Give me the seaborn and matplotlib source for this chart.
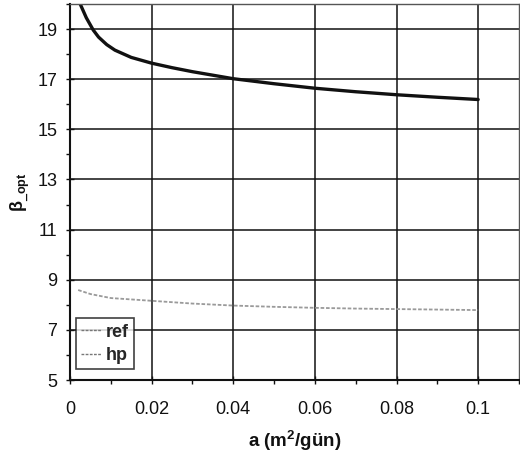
import matplotlib
matplotlib.use("Agg")
import matplotlib.pyplot as plt
import seaborn as sns
import pandas as pd
from matplotlib.ticker import MultipleLocator

# data
a_hp = [0.001, 0.0025, 0.004, 0.0057, 0.007, 0.009, 0.011, 0.015, 0.02, 0.025, 0.03,
        0.04, 0.05, 0.06, 0.07, 0.08, 0.09, 0.1]
beta_hp = [21.2, 20.0, 19.45, 18.96, 18.68, 18.38, 18.16, 17.87, 17.64, 17.46, 17.3,
           17.02, 16.82, 16.64, 16.5, 16.38, 16.28, 16.19]
a_ref = [0.002, 0.005, 0.01, 0.02, 0.03, 0.04, 0.05, 0.06, 0.07, 0.08, 0.09, 0.1]
beta_ref = [8.59, 8.43, 8.27, 8.16, 8.05, 7.97, 7.92, 7.88, 7.85, 7.83, 7.81, 7.79]
x_ticks = [0, 0.02, 0.04, 0.06, 0.08, 0.1]
x_tick_labels = ["0", "0.02", "0.04", "0.06", "0.08", "0.1"]
y_ticks = [5, 7, 9, 11, 13, 15, 17, 19]

sns.set_theme(style="white")
plt.rcParams["font.family"] = ["Liberation Sans", "DejaVu Sans"]
plt.rcParams["mathtext.fontset"] = "custom"
plt.rcParams["mathtext.rm"] = "Liberation Sans:bold"
plt.rcParams["mathtext.it"] = "Liberation Sans:bold"
plt.rcParams["mathtext.bf"] = "Liberation Sans:bold"

df_ref = pd.DataFrame({"a": a_ref, "beta": beta_ref})
df_hp = pd.DataFrame({"a": a_hp, "beta": beta_hp})

fig = plt.figure(figsize=(5.2, 4.55), dpi=100)
ax = fig.add_axes([0.1346, 0.1648, 0.8634, 0.8264])

sns.lineplot(data=df_ref, x="a", y="beta", ax=ax, color="#9a9a9a", linewidth=1.3,
             linestyle=(0, (2, 1)), label="ref")
sns.lineplot(data=df_hp, x="a", y="beta", ax=ax, color="#111111", linewidth=2.4,
             label="hp")

ax.set_xlim(0, 0.11)
ax.set_ylim(5, 20)
ax.set_xticks(x_ticks)
ax.set_xticklabels(x_tick_labels)
ax.set_yticks(y_ticks)
ax.xaxis.set_minor_locator(MultipleLocator(0.01))
ax.yaxis.set_minor_locator(MultipleLocator(1))
ax.grid(True, which="major", color="#111111", linewidth=1.1)
ax.tick_params(axis="both", which="major", direction="inout", length=6, width=1,
               color="#111111", labelsize=13, labelcolor="#111111", pad=6,
               bottom=True, left=True)
ax.tick_params(axis="both", which="minor", direction="out", length=3, width=1,
               color="#111111", bottom=True, left=True)
ax.tick_params(axis="x", which="major", pad=12)
for side in ["left", "bottom"]:
    ax.spines[side].set_color("#111111")
    ax.spines[side].set_linewidth(1.5)
for side in ["top", "right"]:
    ax.spines[side].set_color("#555555")
    ax.spines[side].set_linewidth(1.0)
    ax.spines[side].set_linestyle((0, (1, 1)))

ax.set_xlabel(r"a (m$^{2}$/gün)", fontsize=13.5, fontweight="bold", color="#111111", labelpad=8)
ax.set_ylabel(r"β$_{\_opt}$", fontsize=13, fontweight="bold", color="#111111", labelpad=4)

leg = ax.legend(loc="lower left", bbox_to_anchor=(0.013, 0.028), frameon=True, fancybox=False,
                fontsize=13, handlelength=1.1, handletextpad=0.25, borderpad=0.3,
                labelspacing=0.35, borderaxespad=0)
leg.get_frame().set_edgecolor("#111111")
leg.get_frame().set_linewidth(1.2)
for t in leg.get_texts():
    t.set_fontweight("bold")
for h in leg.get_lines():
    h.set_color("#777777")
    h.set_linewidth(1.0)
    h.set_linestyle((0, (2, 1)))

fig.savefig("out.png", dpi=100)
